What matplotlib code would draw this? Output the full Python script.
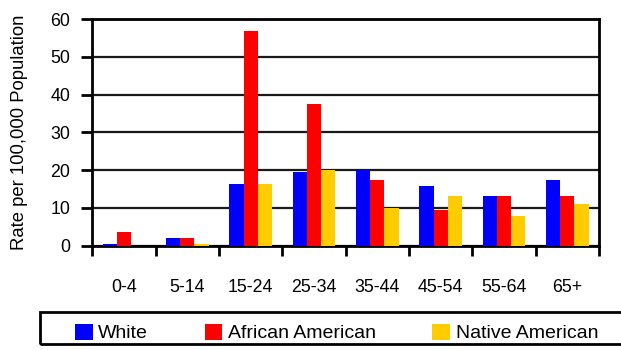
import numpy as np
import matplotlib
matplotlib.use("Agg")
from matplotlib import pyplot as plt
from matplotlib.patches import Patch, Rectangle

plt.rcParams["font.family"] = ["Liberation Sans", "DejaVu Sans"]

age_groups = ["0-4", "5-14", "15-24", "25-34", "35-44", "45-54", "55-64", "65+"]
white = [0.5, 2.0, 16.3, 19.5, 20.0, 15.8, 13.1, 17.4]
african_american = [3.6, 2.0, 56.8, 37.5, 17.4, 9.4, 13.1, 13.1]
native_american = [0.0, 0.5, 16.3, 20.0, 10.0, 13.1, 7.9, 11.0]

series = [("White", white, "#0000ff"),
          ("African American", african_american, "#ff0000"),
          ("Native American", native_american, "#ffcc00")]

W, H = 621, 350
fig = plt.figure(figsize=(W / 100, H / 100), dpi=100)
ax = fig.add_axes([92.3 / W, 1 - 245.7 / H, (599 - 92.3) / W, (245.7 - 19) / H])

x = np.arange(len(age_groups))
bw = 0.225
for i, (name, vals, col) in enumerate(series):
    ax.bar(x + (i - 1) * bw, vals, bw, color=col, zorder=3, linewidth=0)

ax.set_xlim(-0.5, len(age_groups) - 0.5)
ax.set_ylim(0, 60)
ax.set_yticks(np.arange(0, 61, 10))
ax.yaxis.grid(True, color="#1a1a1a", linewidth=1.6, zorder=1)
ax.set_axisbelow(True)

# category labels in the middle, tick marks on the group boundaries
ax.set_xticks(x)
ax.set_xticklabels(age_groups, fontsize=12.8)
ax.set_xticks(np.arange(-0.5, len(age_groups)), minor=True)
ax.tick_params(axis="x", which="major", length=0, pad=24)
ax.tick_params(axis="x", which="minor", length=7, width=2, direction="out")
ax.tick_params(axis="y", length=8, width=2, direction="out", pad=8, labelsize=12.8)

for s in ax.spines.values():
    s.set_linewidth(2)
    s.set_color("black")

ax.set_ylabel("Rate per 100,000 Population", fontsize=13.3)
ax.yaxis.set_label_coords(-0.126, 0.5)

# legend frame runs off the right edge
fig.patches.append(Rectangle((40 / W, 1 - 344 / H), 600 / W, 32 / H,
                             transform=fig.transFigure, fill=False,
                             edgecolor="black", linewidth=2))
handles = [Patch(facecolor=c, edgecolor="none", label=n) for n, _, c in series]
fig.legend(handles=handles, loc="center left", bbox_to_anchor=(75 / W, 1 - 333 / H),
           ncol=3, frameon=False, fontsize=14, borderpad=0, borderaxespad=0,
           handlelength=0.9, handleheight=0.9, handletextpad=0.3, columnspacing=2.9)

fig.savefig("out.png", dpi=100)
